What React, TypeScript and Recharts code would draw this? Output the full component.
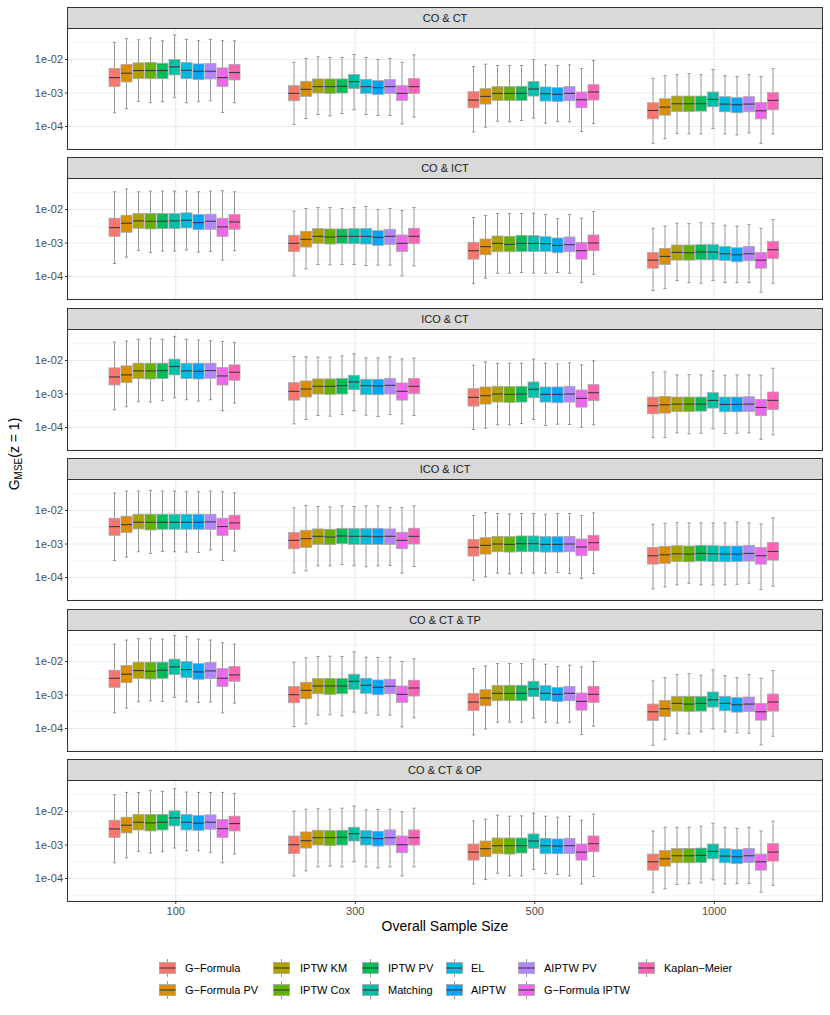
import React from "react";
import { ComposedChart, Bar, XAxis, YAxis, CartesianGrid } from "recharts";

// values are log10(G_MSE), each box is [lower whisker, q1, median, q3, upper whisker]
type Box = [number, number, number, number, number];

const sampleSizes = ["100", "300", "500", "1000"];

const methods = [
  "G\u2212Formula",
  "G\u2212Formula PV",
  "IPTW KM",
  "IPTW Cox",
  "IPTW PV",
  "Matching",
  "EL",
  "AIPTW",
  "AIPTW PV",
  "G\u2212Formula IPTW",
  "Kaplan\u2212Meier",
];

const methodColors = [
  "#F8766D",
  "#DB8E00",
  "#AEA200",
  "#64B200",
  "#00BD5C",
  "#00C1A7",
  "#00BADE",
  "#00A6FF",
  "#B385FF",
  "#EF67EB",
  "#FF63B6",
];

const facetTitles = ["CO & CT", "CO & ICT", "ICO & CT", "ICO & ICT", "CO & CT & TP", "CO & CT & OP"];

const yMajor = [-4, -3, -2];
const yMinor = [-4.5, -3.5, -2.5, -1.5];

const coCt: Box[][] = [
  [
    [-3.59, -2.8, -2.54, -2.27, -1.49],
    [-3.46, -2.67, -2.41, -2.15, -1.38],
    [-3.25, -2.57, -2.33, -2.1, -1.41],
    [-3.29, -2.57, -2.33, -2.09, -1.36],
    [-3.26, -2.57, -2.33, -2.11, -1.44],
    [-3.14, -2.46, -2.22, -2.0, -1.27],
    [-3.29, -2.57, -2.32, -2.09, -1.4],
    [-3.26, -2.6, -2.35, -2.13, -1.44],
    [-3.23, -2.58, -2.35, -2.12, -1.4],
    [-3.58, -2.8, -2.54, -2.25, -1.44],
    [-3.29, -2.61, -2.39, -2.15, -1.44],
  ],
  [
    [-3.94, -3.23, -3.01, -2.78, -2.08],
    [-3.76, -3.1, -2.89, -2.65, -1.97],
    [-3.64, -3.0, -2.81, -2.58, -1.92],
    [-3.68, -3.01, -2.81, -2.58, -1.94],
    [-3.61, -3.0, -2.8, -2.58, -1.94],
    [-3.5, -2.87, -2.66, -2.45, -1.85],
    [-3.64, -3.01, -2.81, -2.59, -1.94],
    [-3.67, -3.04, -2.84, -2.63, -2.0],
    [-3.67, -3.01, -2.81, -2.6, -1.97],
    [-3.92, -3.22, -3.01, -2.78, -2.08],
    [-3.72, -3.01, -2.81, -2.57, -1.86],
  ],
  [
    [-4.16, -3.44, -3.21, -2.96, -2.21],
    [-4.02, -3.33, -3.1, -2.87, -2.14],
    [-3.84, -3.22, -3.01, -2.81, -2.18],
    [-3.86, -3.22, -3.01, -2.81, -2.18],
    [-3.82, -3.22, -3.01, -2.8, -2.18],
    [-3.75, -3.09, -2.88, -2.66, -2.0],
    [-3.9, -3.24, -3.02, -2.82, -2.16],
    [-3.85, -3.25, -3.04, -2.84, -2.18],
    [-3.86, -3.23, -3.01, -2.81, -2.16],
    [-4.15, -3.44, -3.2, -2.97, -2.27],
    [-3.91, -3.21, -2.97, -2.75, -2.03],
  ],
  [
    [-4.5, -3.77, -3.52, -3.29, -2.56],
    [-4.36, -3.66, -3.42, -3.17, -2.48],
    [-4.21, -3.55, -3.32, -3.09, -2.45],
    [-4.22, -3.55, -3.32, -3.09, -2.42],
    [-4.22, -3.54, -3.32, -3.09, -2.45],
    [-4.06, -3.41, -3.19, -2.97, -2.3],
    [-4.22, -3.56, -3.33, -3.11, -2.48],
    [-4.25, -3.59, -3.35, -3.14, -2.51],
    [-4.19, -3.56, -3.33, -3.11, -2.45],
    [-4.5, -3.77, -3.53, -3.28, -2.51],
    [-4.22, -3.5, -3.22, -2.99, -2.27],
  ],
];

const coIct: Box[][] = [
  [
    [-3.61, -2.8, -2.54, -2.26, -1.47],
    [-3.42, -2.68, -2.41, -2.17, -1.39],
    [-3.22, -2.56, -2.34, -2.12, -1.47],
    [-3.28, -2.58, -2.35, -2.12, -1.45],
    [-3.24, -2.57, -2.35, -2.12, -1.45],
    [-3.24, -2.57, -2.34, -2.12, -1.45],
    [-3.21, -2.55, -2.32, -2.1, -1.45],
    [-3.27, -2.6, -2.39, -2.15, -1.47],
    [-3.25, -2.59, -2.35, -2.14, -1.45],
    [-3.51, -2.8, -2.52, -2.26, -1.44],
    [-3.23, -2.59, -2.37, -2.15, -1.47],
  ],
  [
    [-3.98, -3.25, -3.01, -2.77, -2.05],
    [-3.77, -3.12, -2.89, -2.65, -1.97],
    [-3.64, -3.01, -2.8, -2.57, -1.94],
    [-3.65, -3.03, -2.82, -2.58, -1.94],
    [-3.64, -3.01, -2.8, -2.58, -1.97],
    [-3.64, -3.02, -2.8, -2.57, -1.94],
    [-3.67, -3.03, -2.8, -2.57, -1.91],
    [-3.66, -3.07, -2.83, -2.63, -2.0],
    [-3.66, -3.04, -2.8, -2.59, -1.97],
    [-3.98, -3.25, -3.01, -2.76, -2.03],
    [-3.68, -3.02, -2.8, -2.56, -1.94],
  ],
  [
    [-4.21, -3.48, -3.23, -2.98, -2.24],
    [-4.05, -3.35, -3.11, -2.88, -2.18],
    [-3.9, -3.26, -3.01, -2.79, -2.12],
    [-3.9, -3.26, -3.04, -2.8, -2.12],
    [-3.88, -3.25, -3.01, -2.77, -2.12],
    [-3.9, -3.25, -3.01, -2.78, -2.11],
    [-3.9, -3.25, -3.02, -2.81, -2.15],
    [-3.88, -3.29, -3.07, -2.85, -2.27],
    [-3.9, -3.26, -3.05, -2.82, -2.15],
    [-4.18, -3.48, -3.23, -2.98, -2.26],
    [-3.93, -3.23, -3.0, -2.76, -2.06],
  ],
  [
    [-4.42, -3.75, -3.51, -3.28, -2.56],
    [-4.36, -3.64, -3.4, -3.16, -2.49],
    [-4.12, -3.51, -3.28, -3.06, -2.41],
    [-4.18, -3.51, -3.29, -3.06, -2.42],
    [-4.2, -3.5, -3.27, -3.05, -2.39],
    [-4.12, -3.5, -3.27, -3.05, -2.41],
    [-4.18, -3.52, -3.32, -3.1, -2.47],
    [-4.18, -3.56, -3.35, -3.14, -2.5],
    [-4.18, -3.53, -3.32, -3.1, -2.45],
    [-4.47, -3.75, -3.51, -3.28, -2.56],
    [-4.2, -3.46, -3.2, -2.95, -2.3],
  ],
];

const icoCt: Box[][] = [
  [
    [-3.47, -2.73, -2.49, -2.22, -1.45],
    [-3.38, -2.66, -2.43, -2.16, -1.42],
    [-3.23, -2.54, -2.31, -2.08, -1.37],
    [-3.24, -2.55, -2.31, -2.08, -1.34],
    [-3.2, -2.54, -2.3, -2.08, -1.37],
    [-3.11, -2.43, -2.18, -1.96, -1.28],
    [-3.17, -2.54, -2.31, -2.08, -1.37],
    [-3.21, -2.55, -2.32, -2.08, -1.39],
    [-3.17, -2.53, -2.3, -2.08, -1.41],
    [-3.5, -2.73, -2.46, -2.21, -1.43],
    [-3.27, -2.59, -2.35, -2.13, -1.46],
  ],
  [
    [-3.89, -3.18, -2.92, -2.66, -1.88],
    [-3.76, -3.09, -2.85, -2.61, -1.89],
    [-3.64, -3.0, -2.77, -2.55, -1.9],
    [-3.66, -3.01, -2.77, -2.55, -1.9],
    [-3.61, -3.0, -2.75, -2.54, -1.86],
    [-3.5, -2.87, -2.64, -2.44, -1.8],
    [-3.63, -3.02, -2.75, -2.56, -1.92],
    [-3.67, -3.02, -2.76, -2.56, -1.92],
    [-3.61, -3.0, -2.74, -2.54, -1.89],
    [-3.89, -3.18, -2.92, -2.67, -1.95],
    [-3.64, -2.99, -2.77, -2.54, -1.93],
  ],
  [
    [-4.06, -3.36, -3.1, -2.84, -2.14],
    [-4.02, -3.3, -3.05, -2.79, -2.04],
    [-3.92, -3.24, -3.0, -2.77, -2.09],
    [-3.92, -3.25, -3.01, -2.78, -2.08],
    [-3.88, -3.24, -3.0, -2.77, -2.08],
    [-3.76, -3.11, -2.86, -2.64, -1.96],
    [-3.94, -3.24, -3.01, -2.79, -2.08],
    [-3.9, -3.26, -3.01, -2.79, -2.1],
    [-3.91, -3.24, -3.0, -2.77, -2.07],
    [-3.99, -3.39, -3.13, -2.88, -2.13],
    [-3.92, -3.2, -2.96, -2.72, -2.01],
  ],
  [
    [-4.3, -3.59, -3.35, -3.09, -2.35],
    [-4.3, -3.57, -3.32, -3.07, -2.34],
    [-4.16, -3.52, -3.3, -3.09, -2.43],
    [-4.19, -3.52, -3.3, -3.09, -2.42],
    [-4.17, -3.51, -3.3, -3.09, -2.43],
    [-4.04, -3.42, -3.19, -2.96, -2.31],
    [-4.18, -3.53, -3.31, -3.09, -2.44],
    [-4.17, -3.53, -3.31, -3.09, -2.43],
    [-4.16, -3.52, -3.3, -3.08, -2.43],
    [-4.35, -3.64, -3.4, -3.16, -2.44],
    [-4.22, -3.46, -3.19, -2.94, -2.23],
  ],
];

const icoIct: Box[][] = [
  [
    [-3.49, -2.74, -2.48, -2.23, -1.48],
    [-3.39, -2.66, -2.42, -2.17, -1.42],
    [-3.23, -2.55, -2.35, -2.11, -1.42],
    [-3.28, -2.58, -2.35, -2.11, -1.4],
    [-3.22, -2.56, -2.35, -2.11, -1.42],
    [-3.23, -2.56, -2.35, -2.11, -1.42],
    [-3.24, -2.56, -2.35, -2.11, -1.44],
    [-3.25, -2.56, -2.35, -2.11, -1.44],
    [-3.18, -2.56, -2.34, -2.11, -1.42],
    [-3.49, -2.74, -2.48, -2.23, -1.44],
    [-3.21, -2.57, -2.37, -2.14, -1.47],
  ],
  [
    [-3.86, -3.14, -2.89, -2.66, -1.92],
    [-3.8, -3.1, -2.84, -2.59, -1.85],
    [-3.65, -3.01, -2.77, -2.55, -1.88],
    [-3.65, -3.02, -2.79, -2.56, -1.89],
    [-3.61, -2.99, -2.76, -2.54, -1.86],
    [-3.65, -3.01, -2.77, -2.54, -1.88],
    [-3.68, -3.01, -2.77, -2.54, -1.86],
    [-3.65, -3.01, -2.78, -2.54, -1.86],
    [-3.64, -3.01, -2.77, -2.55, -1.91],
    [-3.87, -3.14, -2.89, -2.65, -1.91],
    [-3.67, -3.0, -2.77, -2.53, -1.86],
  ],
  [
    [-4.08, -3.36, -3.1, -2.86, -2.15],
    [-3.98, -3.3, -3.04, -2.81, -2.06],
    [-3.87, -3.23, -3.0, -2.77, -2.09],
    [-3.89, -3.24, -3.01, -2.78, -2.1],
    [-3.87, -3.23, -2.99, -2.76, -2.09],
    [-3.87, -3.23, -2.99, -2.76, -2.09],
    [-3.87, -3.24, -3.01, -2.78, -2.11],
    [-3.85, -3.24, -3.01, -2.78, -2.09],
    [-3.88, -3.23, -3.0, -2.77, -2.09],
    [-4.03, -3.35, -3.09, -2.85, -2.15],
    [-3.88, -3.2, -2.96, -2.74, -2.07],
  ],
  [
    [-4.34, -3.6, -3.35, -3.1, -2.41],
    [-4.28, -3.58, -3.32, -3.07, -2.38],
    [-4.22, -3.52, -3.29, -3.05, -2.36],
    [-4.17, -3.53, -3.3, -3.06, -2.37],
    [-4.22, -3.51, -3.28, -3.04, -2.37],
    [-4.22, -3.52, -3.29, -3.05, -2.37],
    [-4.22, -3.53, -3.3, -3.06, -2.37],
    [-4.2, -3.52, -3.3, -3.06, -2.34],
    [-4.17, -3.51, -3.28, -3.04, -2.37],
    [-4.36, -3.6, -3.35, -3.1, -2.4],
    [-4.26, -3.48, -3.22, -2.95, -2.22],
  ],
];

const coCtTp: Box[][] = [
  [
    [-3.53, -2.77, -2.5, -2.26, -1.48],
    [-3.39, -2.63, -2.38, -2.12, -1.36],
    [-3.2, -2.5, -2.27, -2.02, -1.32],
    [-3.17, -2.52, -2.29, -2.02, -1.31],
    [-3.19, -2.5, -2.26, -2.02, -1.33],
    [-3.07, -2.39, -2.16, -1.93, -1.23],
    [-3.2, -2.48, -2.24, -2.0, -1.25],
    [-3.22, -2.53, -2.31, -2.06, -1.33],
    [-3.21, -2.51, -2.28, -2.03, -1.36],
    [-3.53, -2.74, -2.5, -2.21, -1.44],
    [-3.24, -2.59, -2.4, -2.15, -1.48],
  ],
  [
    [-3.94, -3.23, -2.99, -2.75, -2.02],
    [-3.86, -3.11, -2.86, -2.62, -1.89],
    [-3.6, -2.96, -2.73, -2.51, -1.85],
    [-3.59, -2.98, -2.73, -2.51, -1.84],
    [-3.62, -2.96, -2.73, -2.51, -1.85],
    [-3.51, -2.83, -2.59, -2.38, -1.71],
    [-3.54, -2.95, -2.71, -2.5, -1.87],
    [-3.6, -2.99, -2.77, -2.55, -1.88],
    [-3.6, -2.96, -2.74, -2.53, -1.87],
    [-3.95, -3.22, -2.98, -2.73, -2.0],
    [-3.68, -3.03, -2.79, -2.56, -1.92],
  ],
  [
    [-4.19, -3.46, -3.21, -2.95, -2.21],
    [-4.01, -3.32, -3.09, -2.84, -2.13],
    [-3.81, -3.17, -2.95, -2.71, -2.06],
    [-3.81, -3.17, -2.95, -2.71, -2.06],
    [-3.81, -3.17, -2.95, -2.71, -2.06],
    [-3.69, -3.05, -2.82, -2.59, -1.93],
    [-3.81, -3.16, -2.95, -2.72, -2.08],
    [-3.83, -3.19, -2.98, -2.77, -2.15],
    [-3.81, -3.17, -2.95, -2.74, -2.11],
    [-4.18, -3.45, -3.19, -2.94, -2.16],
    [-3.93, -3.22, -2.98, -2.74, -2.0],
  ],
  [
    [-4.5, -3.76, -3.5, -3.27, -2.58],
    [-4.33, -3.64, -3.41, -3.16, -2.48],
    [-4.15, -3.48, -3.25, -3.04, -2.39],
    [-4.16, -3.49, -3.27, -3.04, -2.36],
    [-4.1, -3.48, -3.25, -3.04, -2.41],
    [-4.01, -3.36, -3.14, -2.91, -2.25],
    [-4.1, -3.47, -3.25, -3.04, -2.42],
    [-4.13, -3.51, -3.29, -3.08, -2.48],
    [-4.14, -3.49, -3.27, -3.06, -2.39],
    [-4.49, -3.75, -3.5, -3.25, -2.5],
    [-4.23, -3.48, -3.21, -2.97, -2.27],
  ],
];

const coCtOp: Box[][] = [
  [
    [-3.53, -2.77, -2.52, -2.26, -1.5],
    [-3.38, -2.64, -2.41, -2.17, -1.43],
    [-3.19, -2.55, -2.32, -2.09, -1.43],
    [-3.24, -2.58, -2.34, -2.09, -1.37],
    [-3.2, -2.55, -2.32, -2.09, -1.4],
    [-3.09, -2.43, -2.19, -1.98, -1.31],
    [-3.17, -2.55, -2.32, -2.09, -1.42],
    [-3.17, -2.56, -2.35, -2.12, -1.43],
    [-3.22, -2.53, -2.32, -2.1, -1.43],
    [-3.53, -2.77, -2.51, -2.24, -1.43],
    [-3.27, -2.58, -2.36, -2.14, -1.46],
  ],
  [
    [-3.92, -3.25, -2.99, -2.73, -1.99],
    [-3.77, -3.09, -2.87, -2.61, -1.93],
    [-3.65, -3.0, -2.78, -2.56, -1.92],
    [-3.63, -3.02, -2.78, -2.57, -1.93],
    [-3.65, -3.0, -2.77, -2.56, -1.9],
    [-3.5, -2.88, -2.66, -2.47, -1.84],
    [-3.65, -3.0, -2.78, -2.57, -1.95],
    [-3.68, -3.03, -2.81, -2.59, -1.94],
    [-3.65, -3.0, -2.78, -2.55, -1.93],
    [-3.92, -3.23, -2.99, -2.73, -2.01],
    [-3.65, -3.0, -2.78, -2.55, -1.9],
  ],
  [
    [-4.16, -3.45, -3.21, -2.97, -2.28],
    [-4.03, -3.35, -3.11, -2.88, -2.23],
    [-3.84, -3.26, -3.02, -2.79, -2.11],
    [-3.92, -3.27, -3.02, -2.79, -2.14],
    [-3.92, -3.24, -3.02, -2.79, -2.13],
    [-3.73, -3.1, -2.88, -2.67, -2.05],
    [-3.85, -3.26, -3.02, -2.8, -2.14],
    [-3.88, -3.26, -3.03, -2.82, -2.17],
    [-3.92, -3.25, -3.02, -2.8, -2.14],
    [-4.16, -3.45, -3.21, -2.97, -2.26],
    [-3.94, -3.2, -2.96, -2.73, -2.08],
  ],
  [
    [-4.42, -3.75, -3.5, -3.27, -2.58],
    [-4.31, -3.63, -3.41, -3.16, -2.47],
    [-4.18, -3.53, -3.32, -3.1, -2.47],
    [-4.15, -3.53, -3.32, -3.1, -2.47],
    [-4.13, -3.52, -3.31, -3.09, -2.44],
    [-4.04, -3.41, -3.19, -2.97, -2.35],
    [-4.16, -3.53, -3.33, -3.11, -2.47],
    [-4.15, -3.55, -3.35, -3.13, -2.5],
    [-4.15, -3.52, -3.32, -3.1, -2.47],
    [-4.41, -3.75, -3.5, -3.27, -2.58],
    [-4.2, -3.48, -3.21, -2.96, -2.29],
  ],
];

const facetBoxes = [coCt, coIct, icoCt, icoIct, coCtTp, coCtOp];

const FONT = '"Liberation Sans", Arial, Helvetica, sans-serif';
const PANEL_LEFT = 68;
const PANEL_W = 754;
const PANEL_H = 121;
const STRIP_H = 21;

// draws one box plot; the bar itself spans the whisker range, inner stats are placed on that span
const BoxShape = (props: any) => {
  const { x, y, width, height, payload, mi } = props;
  const b: Box = payload.boxes[mi];
  const top = Math.min(y, y + height);
  const bot = Math.max(y, y + height);
  const pos = (v: number) => top + ((b[4] - v) / (b[4] - b[0])) * (bot - top);
  const cx = x + width / 2;
  const yq3 = pos(b[3]);
  const yq1 = pos(b[1]);
  const ymed = pos(b[2]);
  return (
    <g>
      <line x1={cx} x2={cx} y1={top} y2={yq3} stroke="#8c8c8c" strokeWidth={0.9} />
      <line x1={cx} x2={cx} y1={yq1} y2={bot} stroke="#8c8c8c" strokeWidth={0.9} />
      <line x1={cx - 1.6} x2={cx + 1.6} y1={top} y2={top} stroke="#8c8c8c" strokeWidth={0.9} />
      <line x1={cx - 1.6} x2={cx + 1.6} y1={bot} y2={bot} stroke="#8c8c8c" strokeWidth={0.9} />
      <rect x={x} y={yq3} width={width} height={yq1 - yq3} fill={methodColors[mi]} stroke="#a6a6a6" strokeWidth={0.8} />
      <line x1={x} x2={x + width} y1={ymed} y2={ymed} stroke="#3a3a3a" strokeWidth={1.1} />
    </g>
  );
};

const Facet = ({ index }: { index: number }) => {
  const stripTop = Math.round(7 + index * 150.4);
  const panelTop = stripTop + STRIP_H;
  const last = index === facetTitles.length - 1;
  const rows = sampleSizes.map((s, k) => ({ size: s, boxes: facetBoxes[index][k] }));
  return (
    <>
      <div
        style={{
          position: "absolute",
          left: PANEL_LEFT - 1,
          top: stripTop,
          width: PANEL_W + 2,
          height: STRIP_H + 1,
          boxSizing: "border-box",
          background: "#D9D9D9",
          border: "1px solid #333333",
          fontSize: 11,
          color: "#1A1A1A",
          textAlign: "center",
          lineHeight: `${STRIP_H - 1}px`,
        }}
      >
        {facetTitles[index]}
      </div>
      <div style={{ position: "absolute", left: 0, top: panelTop, background: "transparent" }}>
        <ComposedChart
          width={830}
          height={PANEL_H + (last ? 30 : 0)}
          data={rows}
          margin={{ top: 0, right: 8, bottom: 0, left: 0 }}
          barCategoryGap={23}
          barGap={1}
        >
          <CartesianGrid stroke="#EBEBEB" strokeWidth={0.55} horizontalValues={yMinor} vertical={false} />
          <CartesianGrid stroke="#EBEBEB" strokeWidth={1.1} />
          <XAxis
            dataKey="size"
            type="category"
            hide={!last}
            padding={{ left: 18, right: 18 }}
            axisLine={false}
            tickSize={3}
            tickMargin={3}
            tickLine={{ stroke: "#333333" }}
            tick={{ fill: "#4D4D4D", fontSize: 11, fontFamily: FONT }}
            height={30}
          />
          <YAxis
            type="number"
            domain={[-4.67, -1.06]}
            allowDataOverflow
            ticks={yMajor}
            width={PANEL_LEFT}
            axisLine={false}
            tickSize={3}
            tickMargin={2}
            tickLine={{ stroke: "#333333" }}
            tick={{ fill: "#4D4D4D", fontSize: 11, fontFamily: FONT }}
            tickFormatter={(v: number) => `1e-0${-v}`}
          />
          {methods.map((m, i) => (
            <Bar
              key={m}
              name={m}
              dataKey={(row: any) => [row.boxes[i][0], row.boxes[i][4]]}
              fill={methodColors[i]}
              isAnimationActive={false}
              shape={(p: any) => <BoxShape {...p} mi={i} />}
            />
          ))}
        </ComposedChart>
      </div>
      <div
        style={{
          position: "absolute",
          left: PANEL_LEFT - 1,
          top: panelTop,
          width: PANEL_W + 2,
          height: PANEL_H + 1,
          boxSizing: "border-box",
          border: "1px solid #333333",
          pointerEvents: "none",
        }}
      />
    </>
  );
};

const legendCols = [
  { key: 159, label: 185 },
  { key: 273, label: 300 },
  { key: 362, label: 388 },
  { key: 446, label: 471 },
  { key: 518, label: 544 },
  { key: 638, label: 664 },
];
const legendRows = [968, 990];

const LegendKey = ({ color }: { color: string }) => (
  <svg width={17} height={22} style={{ display: "block" }}>
    <line x1={8.5} x2={8.5} y1={2} y2={5.5} stroke="#8c8c8c" strokeWidth={0.9} />
    <line x1={8.5} x2={8.5} y1={16.5} y2={20} stroke="#8c8c8c" strokeWidth={0.9} />
    <rect x={0.5} y={5.5} width={16} height={11} fill={color} stroke="#a6a6a6" strokeWidth={0.8} />
    <line x1={0.5} x2={16.5} y1={11} y2={11} stroke="#3a3a3a" strokeWidth={1.1} />
  </svg>
);

export default function App() {
  return (
    <div
      style={{
        position: "absolute",
        left: 0,
        top: 0,
        width: 830,
        height: 1015,
        background: "#ffffff",
        fontFamily: FONT,
        overflow: "hidden",
      }}
    >
      {facetTitles.map((t, i) => (
        <Facet key={t} index={i} />
      ))}
      <svg style={{ position: "absolute", left: 0, top: 0 }} width={30} height={1015}>
        <text transform="translate(19,454) rotate(-90)" textAnchor="middle" fontSize={14} fontFamily={FONT} fill="#000">
          G
          <tspan fontSize={10} dy={3}>
            MSE
          </tspan>
          <tspan dy={-3}>(z = 1)</tspan>
        </text>
      </svg>
      <div
        style={{
          position: "absolute",
          left: PANEL_LEFT,
          top: 918,
          width: PANEL_W,
          textAlign: "center",
          fontSize: 14,
          color: "#000",
        }}
      >
        Overall Sample Size
      </div>
      {methods.map((m, i) => {
        const col = legendCols[Math.floor(i / 2)];
        const rowY = legendRows[i % 2];
        return (
          <React.Fragment key={m}>
            <div style={{ position: "absolute", left: col.key, top: rowY - 11 }}>
              <LegendKey color={methodColors[i]} />
            </div>
            <div
              style={{
                position: "absolute",
                left: col.label,
                top: rowY - 8,
                fontSize: 11,
                lineHeight: "16px",
                color: "#000",
                whiteSpace: "nowrap",
              }}
            >
              {m}
            </div>
          </React.Fragment>
        );
      })}
    </div>
  );
}
